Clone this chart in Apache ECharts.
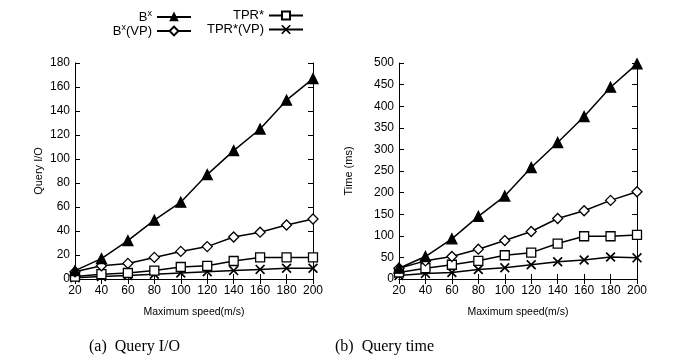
<!DOCTYPE html>
<html>
<head>
<meta charset="utf-8">
<script src="https://cdn.jsdelivr.net/npm/echarts@6/dist/echarts.min.js"></script>
<style>
  html, body { margin: 0; padding: 0; background: #fff; }
  #chart { width: 673px; height: 360px; }
</style>
</head>
<body>
<div id="chart"></div>
<script>
// max speed (m/s)
const speeds = [20, 40, 60, 80, 100, 120, 140, 160, 180, 200];

// (a) query I/O
const ioBx = [7, 17, 32, 49, 64, 87, 107, 125, 149, 167];
const ioBxVP = [6, 11, 13, 18, 23, 27, 35, 39, 45, 50];
const ioTPR = [2, 4, 5, 7, 10, 11, 15, 18, 18, 18];
const ioTPRVP = [1, 2, 3, 4, 5, 6, 7, 8, 9, 9];

// (b) query time (ms)
const timeBx = [25, 52, 93, 145, 192, 258, 316, 376, 444, 498];
const timeBxVP = [25, 42, 52, 69, 89, 110, 140, 158, 182, 202];
const timeTPR = [15, 25, 33, 42, 55, 61, 82, 99, 99, 102];
const timeTPRVP = [8, 13, 15, 22, 26, 33, 40, 44, 51, 49];

const seriesNames = ['Bx', 'Bx(VP)', 'TPR*', 'TPR*(VP)'];

// X marker drawn as a filled outline
const crossPath = 'path://M0,1.2L1.2,0L5,3.8L8.8,0L10,1.2L6.2,5L10,8.8L8.8,10L5,6.2L1.2,10L0,8.8L3.8,5Z';
const symbols = [
  { symbol: 'triangle', symbolSize: 10, fill: '#000', legendH: 8 },
  { symbol: 'diamond', symbolSize: 10, fill: '#fff', legendH: 11 },
  { symbol: 'rect', symbolSize: 9, fill: '#fff', legendH: 10 },
  { symbol: crossPath, symbolSize: 10, fill: '#000', legendH: 12 },
];

const font = 'Liberation Sans, Arial, sans-serif';

function pairs(vals) {
  return speeds.map((s, i) => [s, vals[i]]);
}

function makeSeries(name, vals, idx, axisIdx) {
  const s = symbols[idx];
  return {
    name: name,
    type: 'line',
    xAxisIndex: axisIdx,
    yAxisIndex: axisIdx,
    data: pairs(vals),
    symbol: s.symbol,
    symbolSize: s.symbolSize,
    showAllSymbol: true,
    lineStyle: { color: '#000', width: 1.5 },
    itemStyle: { color: s.fill, borderColor: '#000', borderWidth: idx === 3 ? 0 : 1.3 },
    emphasis: { disabled: true },
    z: 10 - idx,
  };
}

function xAxisDef(gridIndex, main) {
  return {
    type: 'value',
    gridIndex: gridIndex,
    min: 20, max: 200, interval: 20,
    position: main ? 'bottom' : 'top',
    name: main ? 'Maximum speed(m/s)' : '',
    nameLocation: 'middle',
    nameGap: 28,
    nameTextStyle: { color: '#000', fontFamily: font, fontSize: 10.5 },
    axisLine: { show: true, lineStyle: { color: '#000', width: 1 } },
    axisTick: { show: true, inside: true, length: 5, lineStyle: { color: '#000' } },
    axisLabel: { show: main, color: '#000', fontFamily: font, fontSize: 12, margin: 6 },
    splitLine: { show: false },
  };
}

function yAxisDef(gridIndex, max, interval, name, nameGap, main) {
  return {
    type: 'value',
    gridIndex: gridIndex,
    min: 0, max: max, interval: interval,
    position: main ? 'left' : 'right',
    name: main ? name : '',
    nameLocation: 'middle',
    nameGap: nameGap,
    nameRotate: 90,
    nameTextStyle: { color: '#000', fontFamily: font, fontSize: 11 },
    axisLine: { show: true, lineStyle: { color: '#000', width: 1 } },
    axisTick: { show: true, inside: true, length: 5, lineStyle: { color: '#000' } },
    axisLabel: { show: main, color: '#000', fontFamily: font, fontSize: 12, margin: 5 },
    splitLine: { show: false },
  };
}

const legendRich = {
  b: { fontFamily: font, fontSize: 13, color: '#000' },
  s: { fontFamily: font, fontSize: 9, color: '#000', padding: [0, 0, 7, 0] },
};
function legendFmt(name) {
  if (name === 'Bx') return '{b|B}{s|x}';
  if (name === 'Bx(VP)') return '{b|B}{s|x}{b|(VP)}';
  return '{b|' + name + '}';
}
function legendDef(idx, right, top) {
  return {
    data: [seriesNames[idx]],
    right: right,
    top: top,
    align: 'right',
    itemWidth: 34,
    itemHeight: symbols[idx].legendH,
    itemGap: 0,
    padding: 0,
    selectedMode: false,
    formatter: legendFmt,
    textStyle: { rich: legendRich },
  };
}

const chart = echarts.init(document.getElementById('chart'));

const option = {
  backgroundColor: '#fff',
  animation: false,
  legend: [
    legendDef(0, 481, 9),
    legendDef(1, 481, 23),
    legendDef(2, 369, 9),
    legendDef(3, 369, 23),
  ],
  grid: [
    { left: 75, top: 63, width: 238, height: 216 },
    { left: 399, top: 63, width: 238, height: 216 },
  ],
  xAxis: [
    xAxisDef(0, true),
    xAxisDef(1, true),
    xAxisDef(0, false),
    xAxisDef(1, false),
  ],
  yAxis: [
    yAxisDef(0, 180, 20, 'Query I/O', 31, true),
    yAxisDef(1, 500, 50, 'Time (ms)', 45, true),
    yAxisDef(0, 180, 20, '', 0, false),
    yAxisDef(1, 500, 50, '', 0, false),
  ],
  series: [
    makeSeries(seriesNames[0], ioBx, 0, 0),
    makeSeries(seriesNames[1], ioBxVP, 1, 0),
    makeSeries(seriesNames[2], ioTPR, 2, 0),
    makeSeries(seriesNames[3], ioTPRVP, 3, 0),
    makeSeries(seriesNames[0], timeBx, 0, 1),
    makeSeries(seriesNames[1], timeBxVP, 1, 1),
    makeSeries(seriesNames[2], timeTPR, 2, 1),
    makeSeries(seriesNames[3], timeTPRVP, 3, 1),
  ],
  graphic: [
    {
      type: 'text', left: 89, top: 339,
      style: { text: '(a)  Query I/O', fill: '#000', font: '16px "Liberation Serif", serif' },
    },
    {
      type: 'text', left: 335, top: 339,
      style: { text: '(b)  Query time', fill: '#000', font: '16px "Liberation Serif", serif' },
    },
  ],
};

chart.setOption(option);
</script>
</body>
</html>
